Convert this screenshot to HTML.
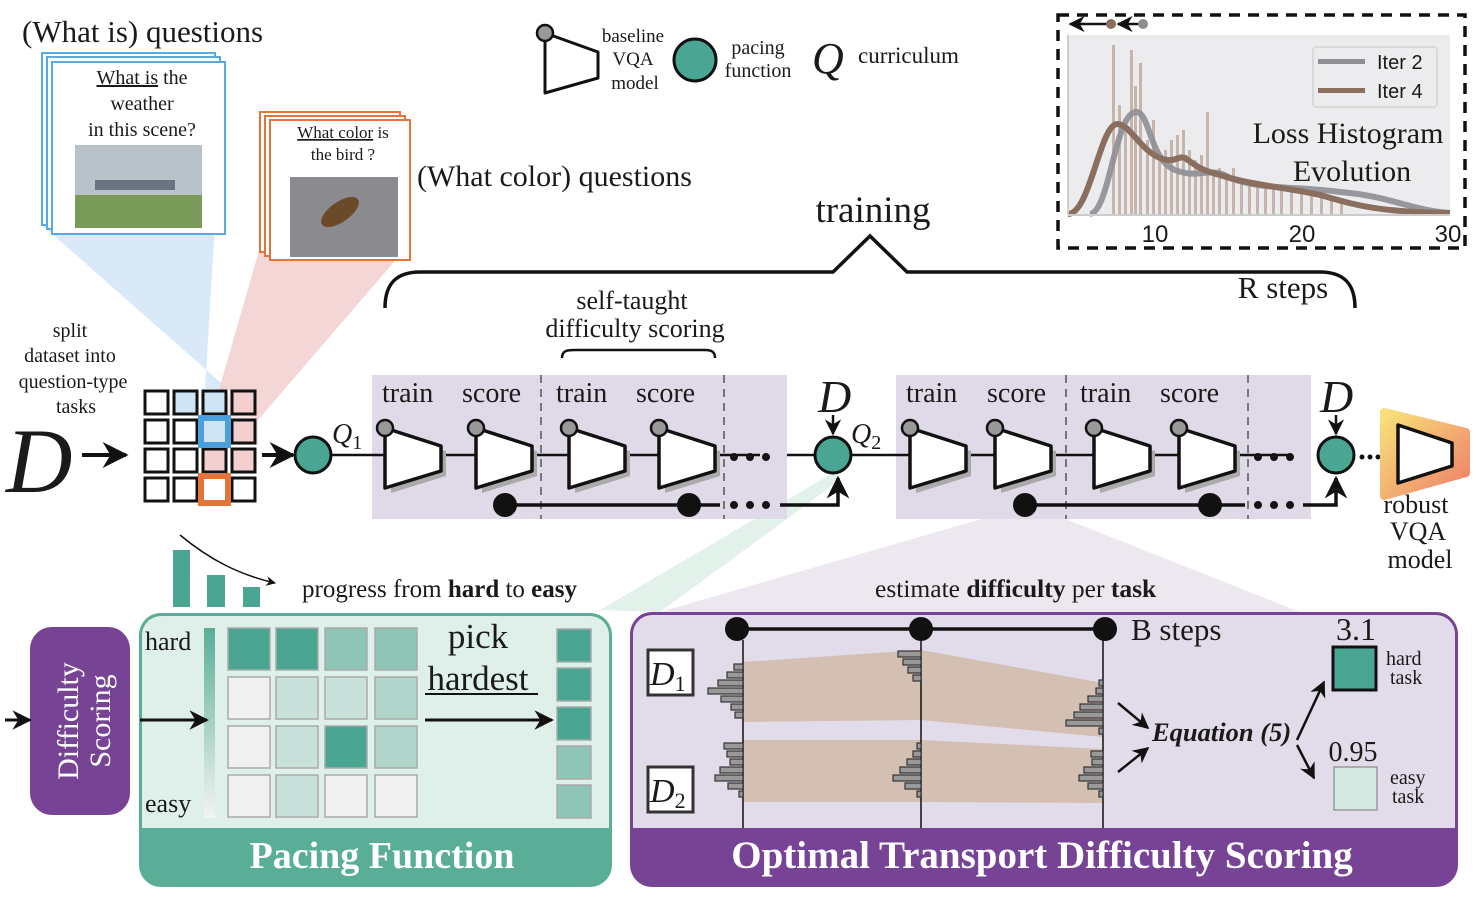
<!DOCTYPE html>
<html><head><meta charset="utf-8"><style>
html,body{margin:0;padding:0;background:#fff}
svg{display:block}
text{font-family:"Liberation Serif",serif;fill:#1a1a1a}
.s{font-family:"Liberation Sans","DejaVu Sans",sans-serif}
</style></head><body>
<svg width="1476" height="903" viewBox="0 0 1476 903" xmlns="http://www.w3.org/2000/svg">
<defs>
<g id="net">
<path d="M3,3 L58,20 L58,45 L3,62 Z" fill="#aaa" transform="translate(3,3)"/>
<path d="M0,0 L56,18 L56,43 L0,60 Z" fill="#fff" stroke="#111" stroke-width="3.5" stroke-linejoin="round"/>
<circle cx="0" cy="0" r="8" fill="#999" stroke="#111" stroke-width="2.5"/>
</g>
<marker id="ah" viewBox="0 0 10 10" refX="9" refY="5" markerWidth="6.5" markerHeight="6.5" orient="auto"><path d="M0,0 L10,5 L0,10 L3,5 Z" fill="#111"/></marker>
<linearGradient id="rg" x1="0" y1="0" x2="1" y2="1"><stop offset="0" stop-color="#f7e27a"/><stop offset="1" stop-color="#ee7f6a"/></linearGradient>
<linearGradient id="vg" x1="0" y1="0" x2="0" y2="1"><stop offset="0" stop-color="#5aae98"/><stop offset="1" stop-color="#f3f3f3"/></linearGradient>
</defs>

<polygon points="42,225 215,225 205,389 228,389" fill="#cfe4f5" opacity="0.8"/>
<polygon points="262,240 400,255 258,420 228,389 216,400" fill="#f3cfd0" opacity="0.85"/>
<polygon points="230,389 258,389 258,445 218,445 " fill="#f3cfd0" opacity="0.5"/>
<polygon points="600,610 838,470 840,480 660,612" fill="#e0efe9" opacity="0.9"/>
<polygon points="660,612 1030,505 1300,612" fill="#ebe5ee" opacity="0.9"/>

<text x="22" y="42" font-size="31">(What is) questions</text>
<rect x="42" y="53" width="173" height="172" fill="#fff" stroke="#5aa9e0" stroke-width="2"/>
<rect x="47" y="57" width="173" height="172" fill="#fff" stroke="#5aa9e0" stroke-width="2"/>
<rect x="52" y="62" width="173" height="172" fill="#fff" stroke="#5aa9e0" stroke-width="2"/>
<text x="142" y="84" font-size="20" text-anchor="middle"><tspan text-decoration="underline">What is</tspan> the</text>
<text x="142" y="110" font-size="20" text-anchor="middle">weather</text>
<text x="142" y="136" font-size="20" text-anchor="middle">in this scene?</text>
<rect x="75" y="145" width="127" height="83" fill="#b9c2c8"/>
<rect x="75" y="195" width="127" height="33" fill="#7a9a5a"/>
<rect x="95" y="180" width="80" height="10" fill="#6a7480"/>

<rect x="260" y="112" width="140" height="140" fill="#fff" stroke="#e4743a" stroke-width="2"/>
<rect x="265" y="116" width="140" height="140" fill="#fff" stroke="#e4743a" stroke-width="2"/>
<rect x="270" y="120" width="140" height="140" fill="#fff" stroke="#e4743a" stroke-width="2"/>
<text x="343" y="138" font-size="17" text-anchor="middle"><tspan text-decoration="underline">What color</tspan> is</text>
<text x="343" y="160" font-size="17" text-anchor="middle">the bird ?</text>
<rect x="290" y="177" width="108" height="80" fill="#8c8c90"/>
<ellipse cx="340" cy="212" rx="22" ry="10" fill="#6b4a2a" transform="rotate(-35 340 212)"/>
<text x="417" y="186" font-size="30">(What color) questions</text>

<path d="M545,33 L598,52 L598,78 L545,93 Z" fill="#fff" stroke="#111" stroke-width="3" stroke-linejoin="round"/>
<circle cx="545" cy="33" r="8" fill="#999" stroke="#111" stroke-width="2.5"/>
<text x="633" y="42" font-size="19" text-anchor="middle">baseline</text>
<text x="633" y="65" font-size="19" text-anchor="middle">VQA</text>
<text x="635" y="89" font-size="19" text-anchor="middle">model</text>
<circle cx="695" cy="60" r="21" fill="#4aa593" stroke="#111" stroke-width="3"/>
<text x="758" y="54" font-size="20" text-anchor="middle">pacing</text>
<text x="758" y="77" font-size="20" text-anchor="middle">function</text>
<text x="812" y="73" font-size="44" font-style="italic">Q</text>
<text x="858" y="63" font-size="23">curriculum</text>

<rect x="1058" y="15" width="407" height="233" fill="none" stroke="#111" stroke-width="3.5" stroke-dasharray="11,8"/>
<rect x="1068" y="35" width="382" height="180" fill="#ececee"/>
<g fill="#bca89c" opacity="0.8">
<rect x="1112" y="45" width="3" height="170"/><rect x="1118" y="105" width="3" height="110"/><rect x="1124" y="120" width="3" height="95"/>
<rect x="1130" y="50" width="3" height="165"/><rect x="1134" y="86" width="3" height="129"/><rect x="1139" y="63" width="3" height="152"/>
<rect x="1146" y="140" width="3" height="75"/><rect x="1152" y="120" width="3" height="95"/><rect x="1158" y="160" width="3" height="55"/>
<rect x="1164" y="150" width="3" height="65"/><rect x="1170" y="140" width="3" height="75"/><rect x="1176" y="135" width="3" height="80"/>
<rect x="1182" y="130" width="3" height="85"/><rect x="1188" y="150" width="3" height="65"/><rect x="1194" y="160" width="3" height="55"/>
<rect x="1200" y="155" width="3" height="60"/><rect x="1206" y="112" width="3" height="103"/><rect x="1212" y="170" width="3" height="45"/>
<rect x="1218" y="168" width="3" height="47"/><rect x="1225" y="175" width="3" height="40"/><rect x="1232" y="168" width="3" height="47"/>
<rect x="1240" y="178" width="3" height="37"/><rect x="1248" y="180" width="3" height="35"/><rect x="1256" y="182" width="3" height="33"/>
<rect x="1264" y="183" width="3" height="32"/><rect x="1272" y="185" width="3" height="30"/><rect x="1280" y="186" width="3" height="29"/>
<rect x="1290" y="188" width="3" height="27"/><rect x="1300" y="190" width="3" height="25"/><rect x="1310" y="193" width="3" height="22"/>
<rect x="1320" y="196" width="3" height="19"/><rect x="1330" y="199" width="3" height="16"/><rect x="1340" y="202" width="3" height="13"/>
</g>
<path d="M1090,214 C1110,212 1115,110 1137,112 C1150,114 1150,160 1175,170 C1200,180 1210,165 1230,178 C1260,190 1300,186 1340,192 C1390,196 1410,210 1450,213" fill="none" stroke="#8e8e94" stroke-width="6" opacity="0.9"/>
<path d="M1068,214 C1090,214 1100,125 1117,124 C1130,124 1140,150 1160,158 C1175,164 1178,155 1185,158 C1195,165 1200,170 1220,175 C1250,185 1290,188 1320,195 C1350,203 1370,212 1450,213" fill="none" stroke="#8a6e60" stroke-width="6"/>
<rect x="1313" y="47" width="124" height="60" rx="3" fill="#ececee" stroke="#d4d4d4" stroke-width="1.5"/>
<rect x="1318" y="59" width="47" height="5" fill="#8e8e94"/><text x="1377" y="69" font-size="20" class="s">Iter 2</text>
<rect x="1318" y="88" width="47" height="5" fill="#8a6e60"/><text x="1377" y="98" font-size="20" class="s">Iter 4</text>
<text x="1348" y="143" font-size="30" text-anchor="middle">Loss Histogram</text>
<text x="1352" y="181" font-size="30" text-anchor="middle">Evolution</text>
<text x="1155" y="242" font-size="24" text-anchor="middle" class="s">10</text>
<text x="1302" y="242" font-size="24" text-anchor="middle" class="s">20</text>
<text x="1448" y="242" font-size="24" text-anchor="middle" class="s">30</text>
<line x1="1068" y1="215" x2="1450" y2="215" stroke="#ccc" stroke-width="2"/>
<line x1="1068" y1="35" x2="1068" y2="215" stroke="#ccc" stroke-width="2"/>
<line x1="1070" y1="24" x2="1108" y2="24" stroke="#111" stroke-width="2.5" marker-end="url(#ah)" transform="rotate(180 1089 24)"/>
<circle cx="1111" cy="24" r="5" fill="#8a6e60"/>
<line x1="1118" y1="24" x2="1140" y2="24" stroke="#111" stroke-width="2.5" marker-end="url(#ah)" transform="rotate(180 1129 24)"/>
<circle cx="1143" cy="24" r="5" fill="#8e8e94"/>

<text x="873" y="222" font-size="37" text-anchor="middle">training</text>
<path d="M385,308 C385,285 395,272 420,272 L833,272 L870,236 L907,272 L1320,272 C1345,272 1355,285 1355,308" fill="none" stroke="#111" stroke-width="3.5"/>
<text x="1283" y="298" font-size="31" text-anchor="middle">R steps</text>
<text x="632" y="309" font-size="26" text-anchor="middle">self-taught</text>
<text x="635" y="337" font-size="26" text-anchor="middle">difficulty scoring</text>
<path d="M562,358 C562,350 568,350 575,350 L705,350 C712,350 715,352 715,358" fill="none" stroke="#111" stroke-width="2.5"/>

<text x="70" y="337" font-size="20" text-anchor="middle">split</text>
<text x="70" y="362" font-size="20" text-anchor="middle">dataset into</text>
<text x="73" y="388" font-size="20" text-anchor="middle">question-type</text>
<text x="76" y="413" font-size="20" text-anchor="middle">tasks</text>
<text x="6" y="492" font-size="92" font-style="italic">D</text>
<line x1="82" y1="455" x2="126" y2="455" stroke="#111" stroke-width="4" marker-end="url(#ah)"/>
<g fill="#fff" stroke="#111" stroke-width="3">
<rect x="145" y="391" width="23" height="23"/><rect x="174" y="391" width="23" height="23" fill="#cfe4f5"/><rect x="203" y="391" width="23" height="23" fill="#cfe4f5"/><rect x="232" y="391" width="23" height="23" fill="#f3cfd0"/>
<rect x="145" y="420" width="23" height="23"/><rect x="174" y="420" width="23" height="23"/><rect x="232" y="420" width="23" height="23" fill="#f3cfd0"/>
<rect x="145" y="449" width="23" height="23"/><rect x="174" y="449" width="23" height="23"/><rect x="203" y="449" width="23" height="23" fill="#f3cfd0"/><rect x="232" y="449" width="23" height="23" fill="#f3cfd0"/>
<rect x="145" y="478" width="23" height="23"/><rect x="174" y="478" width="23" height="23"/><rect x="232" y="478" width="23" height="23"/>
</g>
<rect x="201" y="418" width="27" height="27" fill="#cfe4f5" stroke="#4a9fdc" stroke-width="6"/>
<rect x="201" y="476" width="27" height="27" fill="#fff" stroke="#e4743a" stroke-width="6"/>
<line x1="262" y1="455" x2="293" y2="455" stroke="#111" stroke-width="4" marker-end="url(#ah)"/>
<circle cx="313" cy="455" r="18" fill="#4aa593" stroke="#111" stroke-width="3"/>
<text x="332" y="443" font-size="28" font-style="italic">Q<tspan font-size="20" font-style="normal" dy="6">1</tspan></text>
<line x1="331" y1="455" x2="372" y2="455" stroke="#111" stroke-width="2.5"/>

<rect x="372" y="375" width="415" height="144" fill="#e0d9e7"/>
<rect x="896" y="375" width="415" height="144" fill="#e0d9e7"/>
<g stroke="#777" stroke-width="2" stroke-dasharray="8,6">
<line x1="541" y1="375" x2="541" y2="519"/><line x1="724" y1="375" x2="724" y2="519"/>
<line x1="1066" y1="375" x2="1066" y2="519"/><line x1="1248" y1="375" x2="1248" y2="519"/>
</g>
<g font-size="28">
<text x="382" y="402">train</text><text x="462" y="402">score</text><text x="556" y="402">train</text><text x="636" y="402">score</text>
<text x="906" y="402">train</text><text x="987" y="402">score</text><text x="1080" y="402">train</text><text x="1160" y="402">score</text>
</g>
<g stroke="#111" stroke-width="2.5">
<line x1="372" y1="455" x2="760" y2="455"/><line x1="787" y1="455" x2="815" y2="455"/>
<line x1="851" y1="455" x2="1290" y2="455"/>
</g>
<use href="#net" x="385" y="428"/><use href="#net" x="476" y="428"/><use href="#net" x="569" y="428"/><use href="#net" x="659" y="428"/>
<use href="#net" x="910" y="428"/><use href="#net" x="995" y="428"/><use href="#net" x="1094" y="428"/><use href="#net" x="1179" y="428"/>
<g fill="#111">
<circle cx="734" cy="457" r="4"/><circle cx="750" cy="457" r="4"/><circle cx="766" cy="457" r="4"/>
<circle cx="1258" cy="457" r="4"/><circle cx="1274" cy="457" r="4"/><circle cx="1290" cy="457" r="4"/>
<circle cx="734" cy="505" r="4"/><circle cx="750" cy="505" r="4"/><circle cx="766" cy="505" r="4"/>
<circle cx="1258" cy="505" r="4"/><circle cx="1274" cy="505" r="4"/><circle cx="1290" cy="505" r="4"/>
<circle cx="1362" cy="457" r="2.5"/><circle cx="1370" cy="457" r="2.5"/><circle cx="1378" cy="457" r="2.5"/>
<circle cx="505" cy="505" r="12"/><circle cx="689" cy="505" r="12"/>
<circle cx="1025" cy="505" r="12"/><circle cx="1210" cy="505" r="12"/>
</g>
<g stroke="#111" stroke-width="3.5" fill="none">
<line x1="505" y1="505" x2="720" y2="505"/><path d="M780,505 L838,505 L838,478" marker-end="url(#ah)"/>
<line x1="1025" y1="505" x2="1245" y2="505"/><path d="M1303,505 L1336,505 L1336,478" marker-end="url(#ah)"/>
</g>
<text x="818" y="412" font-size="46" font-style="italic">D</text>
<line x1="833" y1="415" x2="833" y2="434" stroke="#111" stroke-width="2.5" marker-end="url(#ah)"/>
<circle cx="833" cy="455" r="18" fill="#4aa593" stroke="#111" stroke-width="3"/>
<text x="851" y="443" font-size="28" font-style="italic">Q<tspan font-size="20" font-style="normal" dy="6">2</tspan></text>
<text x="1320" y="412" font-size="46" font-style="italic">D</text>
<line x1="1336" y1="415" x2="1336" y2="434" stroke="#111" stroke-width="2.5" marker-end="url(#ah)"/>
<circle cx="1336" cy="455" r="18" fill="#4aa593" stroke="#111" stroke-width="3"/>
<path d="M1384,412 L1466,432 L1466,473 L1384,496 Z" fill="url(#rg)" stroke="url(#rg)" stroke-width="8" stroke-linejoin="round"/>
<path d="M1398,425 L1452,443 L1452,466 L1398,483 Z" fill="#fff" stroke="#111" stroke-width="3.5" stroke-linejoin="round"/>
<text x="1416" y="513" font-size="26" text-anchor="middle">robust</text>
<text x="1418" y="540" font-size="26" text-anchor="middle">VQA</text>
<text x="1420" y="568" font-size="26" text-anchor="middle">model</text>

<rect x="173" y="550" width="17" height="57" fill="#4aa593"/>
<rect x="207" y="575" width="18" height="32" fill="#4aa593"/>
<rect x="243" y="587" width="17" height="20" fill="#4aa593"/>
<path d="M180,535 C210,560 240,575 275,583" fill="none" stroke="#111" stroke-width="1.5" marker-end="url(#ah)"/>
<text x="302" y="597" font-size="25">progress from <tspan font-weight="bold">hard</tspan> to <tspan font-weight="bold">easy</tspan></text>
<text x="875" y="597" font-size="25.5">estimate <tspan font-weight="bold">difficulty</tspan> per <tspan font-weight="bold">task</tspan></text>

<rect x="30" y="627" width="100" height="188" rx="22" fill="#774394"/>
<text transform="translate(78,721) rotate(-90)" font-size="30" text-anchor="middle" style="fill:#fff">Difficulty</text>
<text transform="translate(110,721) rotate(-90)" font-size="30" text-anchor="middle" style="fill:#fff">Scoring</text>
<line x1="5" y1="720" x2="30" y2="720" stroke="#111" stroke-width="3" marker-end="url(#ah)"/>

<rect x="139" y="613" width="473" height="274" rx="22" fill="#5aae98"/>
<rect x="142" y="616" width="467" height="212" rx="19" fill="#dff0ea"/>
<rect x="142" y="800" width="467" height="28" fill="#dff0ea"/>
<text x="382" y="868" font-size="38" font-weight="bold" text-anchor="middle" style="fill:#fff">Pacing Function</text>
<text x="145" y="650" font-size="26">hard</text>
<text x="145" y="812" font-size="26">easy</text>
<rect x="204" y="628" width="11" height="190" fill="url(#vg)"/>
<line x1="140" y1="720" x2="207" y2="720" stroke="#111" stroke-width="3" marker-end="url(#ah)"/>
<g stroke="#aaa" stroke-width="1.5">
<rect x="228" y="628" width="42" height="42" fill="#4aa593"/><rect x="276" y="628" width="42" height="42" fill="#4aa593"/><rect x="325" y="628" width="42" height="42" fill="#8fc5b7"/><rect x="375" y="628" width="42" height="42" fill="#8fc5b7"/>
<rect x="228" y="677" width="42" height="42" fill="#f0f0f0"/><rect x="276" y="677" width="42" height="42" fill="#c8e1da"/><rect x="325" y="677" width="42" height="42" fill="#c8e1da"/><rect x="375" y="677" width="42" height="42" fill="#b0d5cb"/>
<rect x="228" y="726" width="42" height="42" fill="#f0f0f0"/><rect x="276" y="726" width="42" height="42" fill="#c8e1da"/><rect x="325" y="726" width="42" height="42" fill="#4aa593"/><rect x="375" y="726" width="42" height="42" fill="#b0d5cb"/>
<rect x="228" y="775" width="42" height="42" fill="#f0f0f0"/><rect x="276" y="775" width="42" height="42" fill="#c8e1da"/><rect x="325" y="775" width="42" height="42" fill="#f0f0f0"/><rect x="375" y="775" width="42" height="42" fill="#f0f0f0"/>
<rect x="557" y="629" width="34" height="33" fill="#4aa593"/><rect x="557" y="668" width="34" height="33" fill="#4aa593"/><rect x="557" y="707" width="34" height="33" fill="#4aa593"/><rect x="557" y="746" width="34" height="33" fill="#8fc5b7"/><rect x="557" y="785" width="34" height="33" fill="#8fc5b7"/>
</g>
<text x="478" y="648" font-size="35" text-anchor="middle">pick</text>
<text x="478" y="690" font-size="35" text-anchor="middle">hardest</text>
<line x1="425" y1="694" x2="538" y2="694" stroke="#111" stroke-width="2"/>
<line x1="425" y1="720" x2="552" y2="720" stroke="#111" stroke-width="3" marker-end="url(#ah)"/>

<rect x="630" y="612" width="828" height="275" rx="22" fill="#774394"/>
<rect x="633" y="615" width="822" height="213" rx="19" fill="#e2dbe9"/>
<rect x="633" y="800" width="822" height="28" fill="#e2dbe9"/>
<text x="1042" y="868" font-size="39" font-weight="bold" text-anchor="middle" style="fill:#fff">Optimal Transport Difficulty Scoring</text>
<polygon points="743,662 921,650 1103,683 1103,737 921,720 743,722" fill="#d4bfb3"/>
<polygon points="743,740 921,740 1103,749 1103,803 921,802 743,802" fill="#d4bfb3"/>
<g stroke="#111" stroke-width="1.5"><line x1="743" y1="640" x2="743" y2="828"/><line x1="921" y1="640" x2="921" y2="828"/><line x1="1103" y1="640" x2="1103" y2="828"/></g>
<g fill="#999" stroke="#333" stroke-width="1.2">
<rect x="734" y="664" width="9" height="6"/><rect x="727" y="672" width="16" height="6"/><rect x="718" y="680" width="25" height="6"/><rect x="708" y="688" width="35" height="6"/><rect x="721" y="696" width="22" height="6"/><rect x="731" y="704" width="12" height="6"/><rect x="735" y="712" width="8" height="6"/>
<rect x="898" y="651" width="23" height="6"/><rect x="903" y="659" width="18" height="6"/><rect x="908" y="667" width="13" height="6"/><rect x="913" y="675" width="8" height="6"/>
<rect x="1099" y="680" width="4" height="6"/><rect x="1096" y="688" width="7" height="6"/><rect x="1088" y="696" width="15" height="6"/><rect x="1080" y="704" width="23" height="6"/><rect x="1074" y="712" width="29" height="6"/><rect x="1066" y="720" width="37" height="6"/><rect x="1099" y="728" width="4" height="6"/>
<rect x="724" y="743" width="19" height="6"/><rect x="727" y="751" width="16" height="6"/><rect x="730" y="759" width="13" height="6"/><rect x="720" y="767" width="23" height="6"/><rect x="715" y="775" width="28" height="6"/><rect x="728" y="783" width="15" height="6"/><rect x="739" y="791" width="4" height="6"/>
<rect x="917" y="743" width="4" height="6"/><rect x="913" y="751" width="8" height="6"/><rect x="907" y="759" width="14" height="6"/><rect x="900" y="767" width="21" height="6"/><rect x="893" y="775" width="28" height="6"/><rect x="905" y="783" width="16" height="6"/><rect x="917" y="791" width="4" height="6"/>
<rect x="1091" y="751" width="12" height="6"/><rect x="1092" y="759" width="11" height="6"/><rect x="1084" y="767" width="19" height="6"/><rect x="1079" y="775" width="24" height="6"/><rect x="1088" y="783" width="15" height="6"/><rect x="1099" y="791" width="4" height="6"/>
</g>
<line x1="737" y1="629" x2="1105" y2="629" stroke="#111" stroke-width="3.5"/>
<circle cx="737" cy="629" r="12" fill="#111"/><circle cx="921" cy="629" r="12" fill="#111"/><circle cx="1105" cy="629" r="12" fill="#111"/>
<text x="1131" y="640" font-size="31">B steps</text>
<rect x="648" y="650" width="45" height="45" fill="#fff" stroke="#333" stroke-width="3"/>
<text x="650" y="685" font-size="34" font-style="italic">D<tspan font-size="22" font-style="normal" dy="6">1</tspan></text>
<rect x="648" y="767" width="45" height="45" fill="#fff" stroke="#333" stroke-width="3"/>
<text x="650" y="802" font-size="34" font-style="italic">D<tspan font-size="22" font-style="normal" dy="6">2</tspan></text>
<g stroke="#111" stroke-width="2.5" fill="none">
<line x1="1118" y1="703" x2="1148" y2="728" marker-end="url(#ah)"/>
<line x1="1118" y1="772" x2="1148" y2="748" marker-end="url(#ah)"/>
<line x1="1297" y1="740" x2="1324" y2="682" marker-end="url(#ah)"/>
<line x1="1297" y1="745" x2="1314" y2="778" marker-end="url(#ah)"/>
</g>
<text x="1152" y="741" font-size="26.5" font-style="italic" font-weight="bold">Equation (5)</text>
<text x="1356" y="640" font-size="32" text-anchor="middle">3.1</text>
<rect x="1333" y="647" width="43" height="43" fill="#4aa593" stroke="#111" stroke-width="3"/>
<text x="1386" y="665" font-size="20">hard</text><text x="1390" y="684" font-size="20">task</text>
<text x="1353" y="761" font-size="28" text-anchor="middle">0.95</text>
<rect x="1334" y="767" width="43" height="43" fill="#d4e8e2" stroke="#999" stroke-width="1.5"/>
<text x="1390" y="784" font-size="20">easy</text><text x="1392" y="803" font-size="20">task</text>
</svg>
</body></html>
